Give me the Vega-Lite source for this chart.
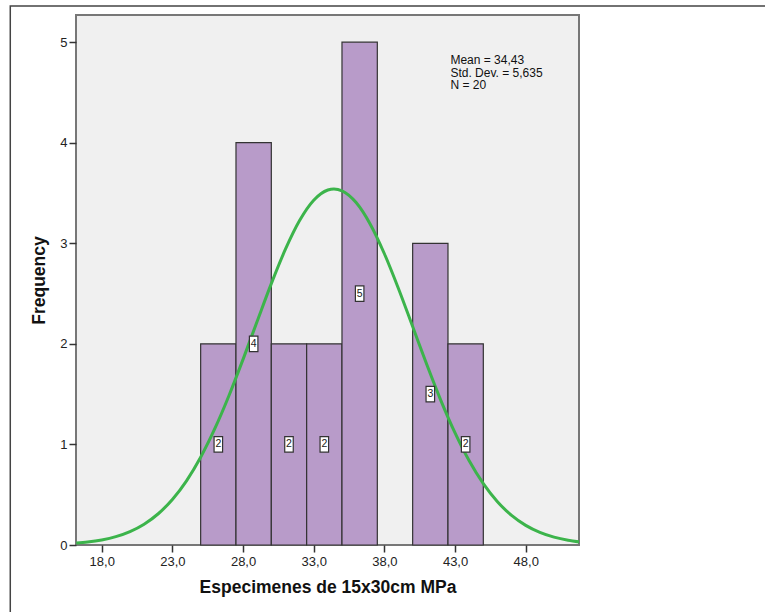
{
  "$schema": "https://vega.github.io/schema/vega-lite/v6.json",
  "width": 503,
  "height": 530,
  "autosize": {"type": "none"},
  "padding": {"left": 76, "top": 15, "right": 186, "bottom": 67},
  "background": "white",
  "config": {
    "font": "Liberation Sans",
    "view": {"fill": "#f0f0f0", "stroke": "#777777", "strokeWidth": 2}
  },
  "datasets": {
    "bins": [
      {"bin_start": 25.0, "bin_end": 27.5, "count": 2},
      {"bin_start": 27.5, "bin_end": 30.0, "count": 4},
      {"bin_start": 30.0, "bin_end": 32.5, "count": 2},
      {"bin_start": 32.5, "bin_end": 35.0, "count": 2},
      {"bin_start": 35.0, "bin_end": 37.5, "count": 5},
      {"bin_start": 40.0, "bin_end": 42.5, "count": 3},
      {"bin_start": 42.5, "bin_end": 45.0, "count": 2}
    ],
    "curve": [
      {"x": 16.2, "y": 0.0189}, {"x": 17, "y": 0.0296}, {"x": 18, "y": 0.0505},
      {"x": 19, "y": 0.0833}, {"x": 20, "y": 0.1333}, {"x": 21, "y": 0.2068},
      {"x": 22, "y": 0.3107}, {"x": 23, "y": 0.4525}, {"x": 24, "y": 0.6382},
      {"x": 25, "y": 0.8727}, {"x": 26, "y": 1.156}, {"x": 27, "y": 1.484},
      {"x": 28, "y": 1.846}, {"x": 29, "y": 2.225}, {"x": 30, "y": 2.599},
      {"x": 31, "y": 2.941}, {"x": 32, "y": 3.226}, {"x": 33, "y": 3.428},
      {"x": 34, "y": 3.530}, {"x": 34.43, "y": 3.540}, {"x": 35, "y": 3.522},
      {"x": 36, "y": 3.405}, {"x": 37, "y": 3.190}, {"x": 38, "y": 2.896},
      {"x": 39, "y": 2.548}, {"x": 40, "y": 2.172}, {"x": 41, "y": 1.794},
      {"x": 42, "y": 1.436}, {"x": 43, "y": 1.114}, {"x": 44, "y": 0.8368},
      {"x": 45, "y": 0.6096}, {"x": 46, "y": 0.4301}, {"x": 47, "y": 0.2942},
      {"x": 48, "y": 0.1949}, {"x": 49, "y": 0.1251}, {"x": 50, "y": 0.0778},
      {"x": 51, "y": 0.0469}, {"x": 51.8, "y": 0.0306}
    ]
  },
  "layer": [
    {
      "data": {"values": [{}]},
      "mark": {"type": "rect", "fill": null, "fillOpacity": 0, "stroke": "#444444", "strokeWidth": 1.5, "clip": false},
      "encoding": {
        "x": {"datum": 11.53, "type": "quantitative", "scale": {"domain": [16.18, 51.77], "nice": false, "zero": false}},
        "x2": {"datum": 75},
        "y": {"datum": 5.36, "type": "quantitative", "scale": {"domain": [0, 5.27], "nice": false}},
        "y2": {"datum": -1.5}
      }
    },
    {
      "data": {"name": "bins"},
      "mark": {"type": "rect", "fill": "#b89bc9", "stroke": "#333333", "strokeWidth": 1.2},
      "encoding": {
        "x": {
          "field": "bin_start", "type": "quantitative",
          "scale": {"domain": [16.18, 51.77], "nice": false, "zero": false},
          "axis": {
            "values": [18, 23, 28, 33, 38, 43, 48],
            "labelExpr": "replace(format(datum.value, '.1f'), '.', ',')",
            "title": "Especimenes de 15x30cm MPa",
            "titleFontSize": 17.5, "titleFontWeight": "bold", "titleColor": "#111111",
            "titlePadding": 10,
            "labelFontSize": 13, "labelColor": "#222222", "labelPadding": 3,
            "tickSize": 7, "tickColor": "#333333", "tickWidth": 1.5,
            "domain": false, "grid": false
          }
        },
        "x2": {"field": "bin_end"},
        "y": {
          "field": "count", "type": "quantitative",
          "scale": {"domain": [0, 5.27], "nice": false},
          "axis": {
            "values": [0, 1, 2, 3, 4, 5],
            "format": "d",
            "title": "Frequency",
            "titleFontSize": 17.5, "titleFontWeight": "bold", "titleColor": "#111111",
            "titlePadding": 11,
            "labelFontSize": 13, "labelColor": "#222222", "labelPadding": 2,
            "tickSize": 7, "tickColor": "#333333", "tickWidth": 1.5,
            "domain": false, "grid": false
          }
        },
        "y2": {"datum": 0}
      }
    },
    {
      "data": {"name": "curve"},
      "mark": {"type": "line", "color": "#3cb44b", "strokeWidth": 3, "interpolate": "monotone", "clip": true},
      "encoding": {
        "x": {"field": "x", "type": "quantitative"},
        "y": {"field": "y", "type": "quantitative"}
      }
    },
    {
      "data": {"name": "bins"},
      "transform": [
        {"calculate": "(datum.bin_start + datum.bin_end) / 2", "as": "mid"},
        {"calculate": "datum.count / 2", "as": "half"}
      ],
      "layer": [
        {
          "mark": {"type": "point", "shape": "M-0.55,-1L0.55,-1L0.55,1L-0.55,1Z", "size": 240, "filled": true, "fill": "white", "stroke": "#333333", "strokeWidth": 1.2, "opacity": 1},
          "encoding": {
            "x": {"field": "mid", "type": "quantitative"},
            "y": {"field": "half", "type": "quantitative"}
          }
        },
        {
          "mark": {"type": "text", "fontSize": 10.5, "color": "#222222", "baseline": "middle", "align": "center"},
          "encoding": {
            "x": {"field": "mid", "type": "quantitative"},
            "y": {"field": "half", "type": "quantitative"},
            "text": {"field": "count", "type": "quantitative"}
          }
        }
      ]
    },
    {
      "data": {"values": [{}]},
      "mark": {
        "type": "text",
        "text": ["Mean = 34,43", "Std. Dev. = 5,635", "N = 20"],
        "align": "left", "baseline": "top", "fontSize": 12, "lineHeight": 12.5, "color": "#111111"
      },
      "encoding": {
        "x": {"datum": 42.67, "type": "quantitative"},
        "y": {"datum": 4.872, "type": "quantitative"}
      }
    }
  ]
}
